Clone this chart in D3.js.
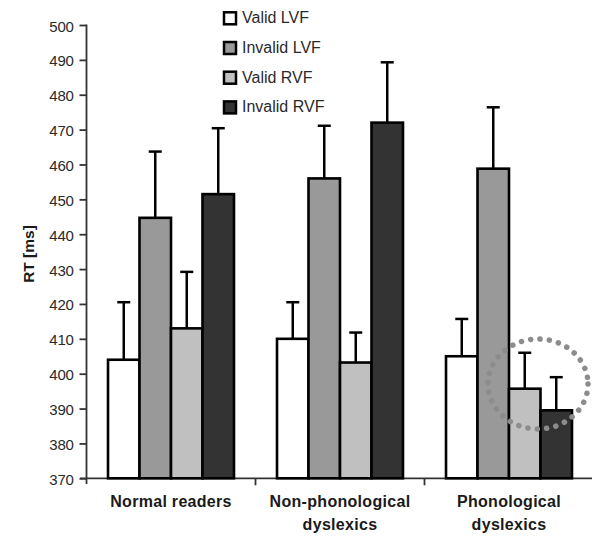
<!DOCTYPE html>
<html><head><meta charset="utf-8">
<script src="https://cdn.jsdelivr.net/npm/d3@7"></script>
<style>body{margin:0;background:#fff}svg{display:block}text{font-family:"Liberation Sans",Arial,sans-serif}</style>
</head><body><div id="chart"></div>
<script>
const categories = [["Normal readers"], ["Non-phonological", "dyslexics"], ["Phonological", "dyslexics"]];
const series = ["Valid LVF", "Invalid LVF", "Valid RVF", "Invalid RVF"];
const colors = ["#ffffff", "#999999", "#c0c0c0", "#333333"];
const means = [
  [404, 444.7, 413, 451.5],
  [410, 456, 403.2, 472],
  [405, 458.8, 395.7, 389.5]
];
const errTop = [
  [420.5, 463.7, 429.2, 470.4],
  [420.5, 471.1, 411.8, 489.3],
  [415.7, 476.4, 406, 399]
];
const yTicks = [370,380,390,400,410,420,430,440,450,460,470,480,490,500];

const W = 592, H = 536;
const svg = d3.select("#chart").append("svg").attr("width", W).attr("height", H);

const x0 = d3.scaleBand().domain(d3.range(categories.length)).range([86.5, 86.5 + 3*169]).padding(0);
const x1 = d3.scaleBand().domain(series).range([0, x0.bandwidth()]).paddingInner(0).paddingOuter(0.683);
const y = d3.scaleLinear().domain([370, 500]).range([478.3, 25]);

// y axis
const yAxis = d3.axisLeft(y).tickValues(yTicks).tickSize(7).tickPadding(6).tickFormat(d3.format("d"));
const gy = svg.append("g").attr("transform", "translate(86.5,0)").call(yAxis);
gy.select(".domain").attr("stroke", "#333").attr("stroke-width", 1.8).attr("d", "M0,24.5V484");
gy.selectAll(".tick line").attr("stroke", "#333").attr("stroke-width", 1.8);
gy.selectAll(".tick text").attr("fill", "#2a2a2a").attr("font-size", 15).attr("letter-spacing", "-0.3px").attr("dy", "0.4em");

// x axis line and ticks
const gx = svg.append("g");
gx.append("line").attr("x1", 80).attr("x2", W).attr("y1", y(370)).attr("y2", y(370)).attr("stroke", "#333").attr("stroke-width", 1.8);
gx.selectAll(".xt").data([1, 2]).join("line")
  .attr("x1", d => x0(d)).attr("x2", d => x0(d))
  .attr("y1", y(370)).attr("y2", y(370) + 7).attr("stroke", "#333").attr("stroke-width", 1.8);

// bars
const groups = svg.selectAll(".grp").data(means).join("g").attr("transform", (d, i) => `translate(${x0(i)},0)`);
groups.each(function(vals, gi) {
  const g = d3.select(this);
  vals.forEach((v, si) => {
    const bx = x1(series[si]), bw = x1.bandwidth();
    const cx = bx + bw / 2;
    g.append("line").attr("x1", cx).attr("x2", cx).attr("y1", y(v)).attr("y2", y(errTop[gi][si]))
      .attr("stroke", "#000").attr("stroke-width", 2.5);
    g.append("line").attr("x1", cx - 6.5).attr("x2", cx + 6.5).attr("y1", y(errTop[gi][si])).attr("y2", y(errTop[gi][si]))
      .attr("stroke", "#000").attr("stroke-width", 2.5);
    g.append("rect").attr("x", bx).attr("y", y(v)).attr("width", bw).attr("height", y(370) - y(v))
      .attr("fill", colors[si]).attr("stroke", "#000").attr("stroke-width", 2.6);
  });
});

// x labels
categories.forEach((lines, i) => {
  const t = svg.append("text").attr("text-anchor", "middle").attr("font-weight", "bold").attr("font-size", 16)
    .attr("letter-spacing", "0.3px").attr("fill", "#1a1a1a");
  lines.forEach((l, k) => t.append("tspan").attr("x", x0(i) + x0.bandwidth() / 2).attr("y", 506.5 + k * 23.5).text(l));
});

// y title
svg.append("text").attr("transform", "translate(34,254) rotate(-90)").attr("text-anchor", "middle")
  .attr("font-weight", "bold").attr("font-size", 15.5).attr("fill", "#1a1a1a").text("RT [ms]");

// legend
const leg = svg.append("g");
series.forEach((s, i) => {
  const base = 23.3 + i * 29.7;
  leg.append("rect").attr("x", 224).attr("y", base - 11).attr("width", 12).attr("height", 12)
    .attr("fill", colors[i]).attr("stroke", "#000").attr("stroke-width", 2.5);
  leg.append("text").attr("x", 242).attr("y", base).attr("font-size", 16).attr("fill", "#2a2a2a").text(s);
});

// dotted highlight ellipse
svg.append("ellipse").attr("cx", 538).attr("cy", 384).attr("rx", 50).attr("ry", 45)
  .attr("fill", "none").attr("stroke", "#8c8c8c").attr("stroke-width", 5.5)
  .attr("stroke-linecap", "round").attr("stroke-dasharray", "0.1 9.3");
</script></body></html>
